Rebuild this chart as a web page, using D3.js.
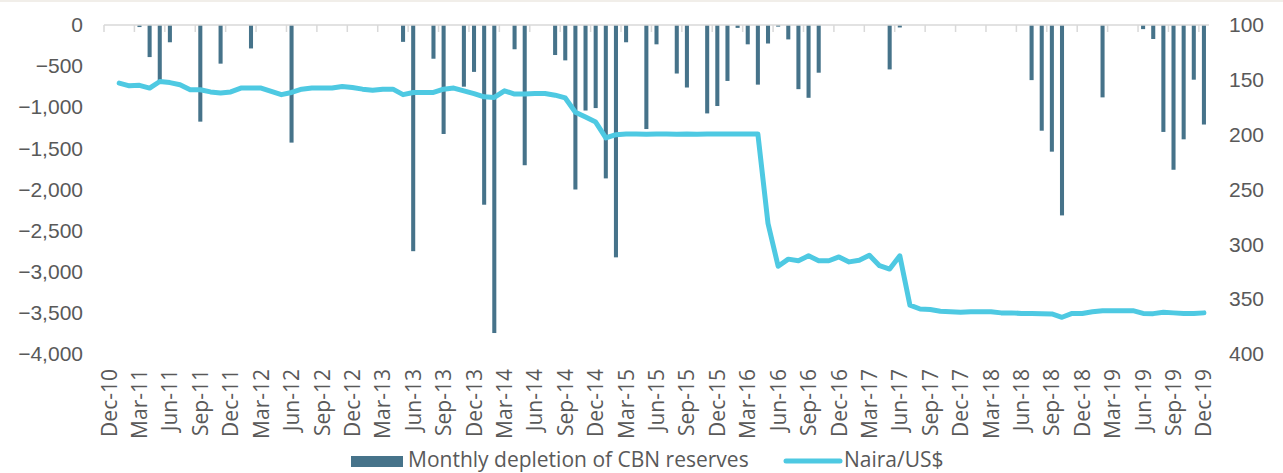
<!DOCTYPE html>
<html>
<head>
<meta charset="utf-8">
<script src="https://cdn.jsdelivr.net/npm/d3@7"></script>
<style>
  body { margin: 0; background: #fff; }
  svg { display: block; font-family: "Open Sans", "Noto Sans", sans-serif; }
  .tick text, .lbl { fill: #595959; }
</style>
</head>
<body>
<svg id="chart" width="1283" height="473"></svg>
<script>
// months Dec-10 .. Dec-19
const months = d3.timeMonths(new Date(2010, 11, 1), new Date(2020, 0, 1)).map(d3.timeFormat("%b-%y"));

// monthly depletion of CBN reserves (US$m), one per month
const depletion = [
  0, 0, 0, -25, -390, -690, -210, 0, 0, -1175, 0, -470,
  0, 0, -285, 0, 0, 0, -1430, 0, 0, 0, 0, 0,
  0, 0, 0, 0, 0, -205, -2750, 0, -410, -1325, 0, -750,
  -570, -2185, -3745, 0, -295, -1705, 0, 0, -365, -430, -2000, -1040,
  -1010, -1865, -2825, -210, 0, -1265, -235, 0, -590, -760, 0, -1075,
  -985, -680, -35, -235, -725, -225, -20, -175, -780, -885, -580, 0,
  0, 0, 0, 0, 0, -540, -30, 0, 0, 0, 0, 0,
  0, 0, 0, 0, 0, 0, 0, -670, -1285, -1540, -2315, 0,
  0, 0, -880, 0, 0, 0, -50, -170, -1300, -1760, -1390, -665,
  -1210
];

// Naira / US$ exchange rate
const naira = [
  null, 153, 155.5, 155, 157.5, 151.5, 152.5, 154.5, 159, 159, 161, 162,
  161, 157.5, 157.5, 157.5, 160.5, 163.5, 161.5, 158.5, 157.5, 157.5, 157.5, 156,
  157, 158.5, 159.5, 158.5, 158.5, 163.5, 161.5, 161.5, 161.5, 158.5, 157.5, 160,
  162.5, 165.5, 166, 160, 163, 163, 162.5, 162.5, 164, 166.5, 179.5, 184,
  188.5, 203, 200, 199.5, 199.5, 199.7, 199.5, 199.5, 199.7, 199.5, 199.7, 199.5,
  199.5, 199.5, 199.5, 199.5, 199.5, 281, 320, 313.5, 315, 310.5, 315, 315,
  311.5, 316, 314.5, 310, 319.5, 322.5, 310.5, 355.5, 359, 359.5, 361, 361.5,
  362, 361.5, 361.5, 361.5, 362.5, 362.5, 363, 363, 363.2, 363.5, 366.5, 363,
  363, 361.5, 360.5, 360.5, 360.5, 360.5, 363, 363.2, 362, 362.5, 363, 363,
  362.5
];

const leftTicks = [0, -500, -1000, -1500, -2000, -2500, -3000, -3500, -4000];
const rightTicks = [100, 150, 200, 250, 300, 350, 400];

const barColor = "#46738a";
const lineColor = "#4ec9e2";

const svg = d3.select("#chart");

svg.append("rect").attr("width", 1283).attr("height", 2).attr("fill", "#f1eee9");

const x = d3.scaleBand(months, [104, 1209]).paddingInner(0.6).paddingOuter(0.3);
const yL = d3.scaleLinear([-4000, 0], [354, 25]);
const yR = d3.scaleLinear([100, 400], [25, 354]);

// left axis
svg.append("g")
    .attr("transform", "translate(83,0)")
    .call(d3.axisLeft(yL).tickValues(leftTicks).tickSize(0).tickPadding(0).tickFormat(d3.format(",")))
    .call(g => g.select(".domain").remove())
    .selectAll("text").attr("font-size", 21).attr("font-family", null);

// right axis
svg.append("g")
    .attr("transform", "translate(1229,0)")
    .call(d3.axisRight(yR).tickValues(rightTicks).tickSize(0).tickPadding(0))
    .call(g => g.select(".domain").remove())
    .selectAll("text").attr("font-size", 21).attr("font-family", null);

// bars
svg.append("g")
  .selectAll("rect")
  .data(months.map((m, i) => [m, depletion[i]]).filter(d => d[1] !== 0))
  .join("rect")
    .attr("x", d => x(d[0]))
    .attr("width", x.bandwidth())
    .attr("y", yL(0))
    .attr("height", d => yL(d[1]) - yL(0))
    .attr("fill", barColor);

// category axis line at zero with ticks every 3 months
const step = x.step();
const axisG = svg.append("g").attr("stroke", "#d9d9d9").attr("stroke-width", 1.5);
axisG.append("line").attr("x1", 104).attr("x2", 1209).attr("y1", yL(0)).attr("y2", yL(0));
axisG.selectAll("line.tk")
  .data(d3.range(0, months.length + 1, 3))
  .join("line")
    .attr("class", "tk")
    .attr("x1", i => x(months[0]) - step * 0.3 + i * step)
    .attr("x2", i => x(months[0]) - step * 0.3 + i * step)
    .attr("y1", yL(0)).attr("y2", yL(0) + 7);

// x labels
svg.append("g")
  .selectAll("text")
  .data(months.filter((m, i) => i % 3 === 0))
  .join("text")
    .attr("class", "lbl")
    .attr("transform", m => `translate(${x(m) + x.bandwidth() / 2},369) rotate(-90)`)
    .attr("dy", "0.36em")
    .attr("text-anchor", "end")
    .attr("font-size", 21)
    .text(m => m);

// exchange rate line
const line = d3.line()
    .defined(d => d[1] != null)
    .x(d => x(d[0]) + x.bandwidth() / 2)
    .y(d => yR(d[1]));

svg.append("path")
    .datum(months.map((m, i) => [m, naira[i]]))
    .attr("d", line)
    .attr("fill", "none")
    .attr("stroke", lineColor)
    .attr("stroke-width", 5)
    .attr("stroke-linejoin", "round")
    .attr("stroke-linecap", "round");

// legend
const lg = svg.append("g");
lg.append("rect").attr("x", 351).attr("y", 456).attr("width", 52).attr("height", 11).attr("fill", barColor);
lg.append("text").attr("class", "lbl").attr("x", 408).attr("y", 467).attr("font-size", 21)
    .text("Monthly depletion of CBN reserves");
lg.append("line").attr("x1", 786).attr("x2", 840).attr("y1", 461).attr("y2", 461)
    .attr("stroke", lineColor).attr("stroke-width", 5).attr("stroke-linecap", "round");
lg.append("text").attr("class", "lbl").attr("x", 844).attr("y", 467).attr("font-size", 21)
    .text("Naira/US$");
</script>
</body>
</html>
